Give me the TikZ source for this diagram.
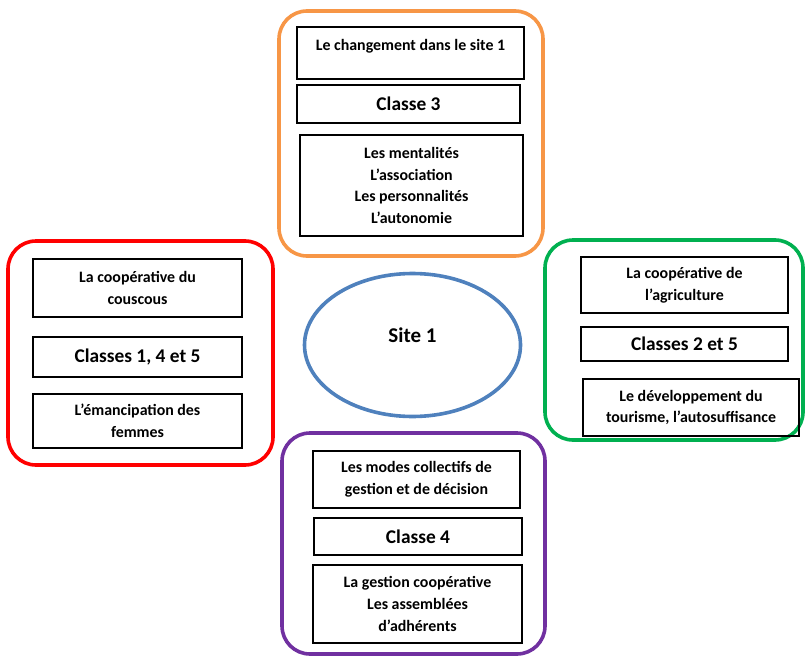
\documentclass[tikz,border=0pt]{standalone}
\usepackage{fontspec}
\setmainfont{Carlito}
\usetikzlibrary{shapes.geometric}

\definecolor{orangec}{HTML}{F79646}
\definecolor{rougec}{HTML}{FF0000}
\definecolor{vertc}{HTML}{00B050}
\definecolor{violetc}{HTML}{7030A0}
\definecolor{bleuc}{HTML}{4F81BD}

\tikzset{
	cadre/.style={line width=3.6pt, rounded corners=28pt},
	boite/.style={draw, line width=1.4pt, inner sep=0pt, align=center,
		font=\bfseries\fontsize{15.9}{21.7}\selectfont},
	titre/.style={boite, font=\bfseries\fontsize{19.4}{22}\selectfont},
}

\begin{document}
\begin{tikzpicture}[x=1pt,y=-1pt]
			%%%%% START %%%%%
			\useasboundingbox (0,0) rectangle (805,658);
			
			% centre
			\node[draw=bleuc, ellipse, line width=3.6pt, minimum width=216pt, minimum height=143pt,
				text height=14pt, text depth=20pt,
				font=\bfseries\fontsize{21}{24}\selectfont] (site) at (412.5,345) {Site 1};
			
			% haut, orange
			\draw[cadre, orangec] (279,11) rectangle (543,256);
			\node[boite, minimum width=227pt, minimum height=52pt] (chgt) at (410.5,53) {Le changement dans le site 1\\[-12pt] \strut};
			\node[titre, minimum width=223pt, minimum height=38pt] (cl3) at (408.5,104) {Classe 3};
			\node[boite, minimum width=223pt, minimum height=101pt] (ment) at (411.5,185.5) {Les mentalités\\L’association\\Les personnalités\\L’autonomie};
			
			% gauche, rouge
			\draw[cadre, rougec] (8,241) rectangle (273,465);
			\node[boite, minimum width=209pt, minimum height=58pt] (cous) at (137.5,288) {La coopérative du\\couscous};
			\node[titre, minimum width=209pt, minimum height=40pt] (cl145) at (137.5,357) {Classes 1, 4 et 5};
			\node[boite, minimum width=209pt, minimum height=54pt] (femm) at (137.5,421) {L’émancipation des\\femmes};
			
			% droite, vert
			\draw[cadre, vertc] (545,240) rectangle (803,440);
			\node[boite, minimum width=207pt, minimum height=56pt] (agri) at (684.5,285) {La coopérative de\\l’agriculture};
			\node[titre, minimum width=207pt, minimum height=34pt] (cl25) at (684.5,344) {Classes 2 et 5};
			\node[boite, minimum width=216pt, minimum height=57pt] (tour) at (691,407.5) {Le développement du\\tourisme, l’autosuffisance};
			
			% bas, violet
			\draw[cadre, violetc] (282,433) rectangle (545,654);
			\node[boite, minimum width=207pt, minimum height=57pt] (modes) at (416.5,479.5) {Les modes collectifs de\\gestion et de décision};
			\node[titre, minimum width=208pt, minimum height=37pt] (cl4) at (418,536.5) {Classe 4};
			\node[boite, minimum width=209pt, minimum height=78pt] (gest) at (417.5,604) {La gestion coopérative\\Les assemblées\\d’adhérents};
			%%%%% END %%%%%
\end{tikzpicture}
\end{document}
